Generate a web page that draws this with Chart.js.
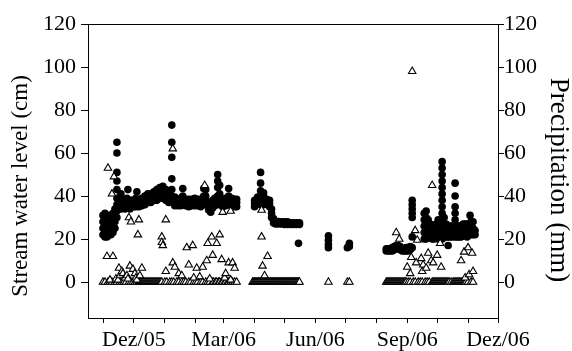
<!DOCTYPE html>
<html><head><meta charset="utf-8">
<script src="https://cdn.jsdelivr.net/npm/chart.js@4.4.1/dist/chart.umd.min.js"></script>
<style>html,body{margin:0;padding:0;background:#fff;}canvas{display:block;}</style>
</head><body>
<canvas id="c" width="572" height="351"></canvas>
<script>
// x values: days since 1 Dec 2005
const monthTickDays = [-30,0,31,62,90,121,151,182,212,243,274,304,335,365];
const tickLabelDays = [0,90,182,274,365];
const tickLabelTexts = ['Dez/05','Mar/06','Jun/06','Sep/06','Dez/06'];
const yTicks = [0,20,40,60,80,100,120];
const leftTitle = 'Stream water level (cm)';
const rightTitle = 'Precipitation (mm)';

// Stream water level (cm): day -> values recorded that day
const levelDays = [-31,-29,-27,-25,-23,-21,-19,-17,-15,-13,-11,-9,-7,-6,-4,-2,0,2,3,5,8,11,14,17,20,23,26,29,32,35,38,
  41,44,47,49,52,55,58,61,64,67,70,72,75,77,79,81,84,86,89,92,95,98,101,103,
  121,124,127,130,133,136,138,140,142,145,148,151,154,157,160,163,166,165,195,214,216,
  253,255,257,259,261,263,265,267,269,271,273,275,277,279,
  291,293,295,297,299,301,303,305,307,309,311,313,315,317,319,322,324,326,328,330,332,334,336,337,338,340,342];
const levelValues = [
  [22,25,28,31],[21,24,27,30,32],[21,24,27,30],[22,25,28,31],[22,25,28,30],[23,26,29,32],[25,28,31,34],
  [65,60,51,47,43,39,36,33,30],[35,37,39],[34,36,38,41],[35,36.5,38],[34,36,38],[35,37,39],[43],[34,36,38],
  [35,36.5,38],[35,36.5,38],[35,37,39],[42],[35,36.5,38],[35.5,37,39],[36,38,40],[37,39,41],[37,39,41],[38,40,42],
  [38,40.5,43],[39,41.5,44],[39,42,44.5],[38,40.5,43],[37,39.5,42],[73,65,58,48,43,40,37],
  [35.5,37.5,39.5],[35.5,37,38.5],[35.5,37.5,39],[36,38,40,43.5],[35.5,37,38.5],[35,37,38.5],[35.5,37,38.5],
  [35.5,37.5,39],[35.5,37,38.5],[35,37,38.5],[36,38,40,43.5],[36,38,40,43],[33.5,35.5,37],[32.5,34.5,36],
  [34.5,36.5,38],[35.5,37.5,39],[36,38,40,44,47,50],[37,39,41,45],[35,37,38.5],[35.5,37.5,39],[36,38,40,43.5],
  [35.5,37.5,39],[35,37,38.5],[35,37,38.5],
  [35,36.5,38],[36.5,38,39.5],[51,46,42.5,39,37.5,36],[36,38,40,41.5],[36.5,37.5,38.5],[35,36.5,38],[30,32,34],
  [27.5,28.5,29.5],[27,28.2],[27,28.2],[27,28],[26.8,28],[26.8,28],[26.8,27.6],[26.8,27.6],[26.8,27.6],[26.8,27.6],
  [18],[21.5,19.5,17.5,16],[16],[18,16.5],
  [14.5,15.5],[14.5,15.5],[14.5,15.5],[14.5,16],[15,16.5],[15.5,17],[15.5,17],[15,16.5],[14.5,15.5],[14.5,15.5],
  [14.5,16],[14.5,16],[15,16.5],[38,36,34,32,30,21,16],
  [20,23,26,29,32],[20,23.5,27,30,33],[21,24,27,29],[21,24,27],[20,23,26],[20,23,26],[21,24,27],[20,23,26,29],
  [20,23,26,29],[56,53,50,47,44,41,38,35,32,29,26,23,20],[21,24,27,30],[21,24,27],[17,21,24],[21,23.5,26],
  [21,23.5,26],[46,40,35,32,29,26,23,21],[21,23.5,26],[21,23.5,26],[21,23.5,26],[22,24.5,27],[22,24.5,27],
  [21,24,27],[22,24.5,27],[31],[22,25,28],[22,25,28],[22,24]
];

// Precipitation (mm): days with rain
const rainDays = [-27,-26,-24,-22,-21,-20,-18,-16,-15,-14,-12,-11,-9,-7,-6,-5,-4,-3,-1,1,2,3,4,5,6,8,
  28,28,29,32,32,39,39,41,45,48,53,55,59,60,63,66,69,71,73,74,76,78,79,83,86,88,89,91,92,95,97,97,99,101,
  128,128,129,131,134,
  263,266,274,277,278,279,282,283,284,288,289,290,293,295,298,299,300,304,307,308,328,331,332,335,336,339,340];
const rainValues = [12,53,1,41,12,49,1.5,1,6.5,3,5,4,2,3,1.5,30,7.5,28,6,4,2,1,22,29,3,6.5,
  21,18.5,17,29,5,62,9,7,4,3,16,8,17,2,6.5,2.5,7,45,10,18,1.5,21,12.5,18,22,10.5,32.5,2,4,9,33,1,9,6.5,
  33.5,21,7.5,3,12,
  23,20,7,4,11.5,98,24,9,19.5,11,5,8,6.5,13.5,10,45,9,12.5,18,7,10,14,2,16,3.5,13.5,5];
// Precipitation (mm): days with zero rain
const rainZeroDays = [-31,-29,-26,-24,-22,-19,-17,-14,-12,-10,-8,-5,-3,-1,1,3,5,
  6,7,8,9,10,11,12,13,14,15,16,17,18,19,20,21,22,23,24,25,26,27,28,
  31,33,36,38,40,43,45,48,50,52,55,57,60,62,64,67,69,72,74,76,79,80,82,83,85,86,88,89,91,92,94,95,97,99,101,103,
  119,120,121,122,123,124,125,126,127,128,129,130,131,132,133,134,135,136,137,138,139,140,141,142,143,144,145,146,
  147,148,149,150,151,152,153,154,155,156,157,158,159,160,161,162,163,164,165,166,
  195,214,216,
  253,254,255,256,257,258,259,260,261,262,263,264,265,266,267,268,269,270,271,272,273,
  275,277,280,282,285,287,289,292,294,296,299,300,301,302,303,304,305,306,307,308,309,310,311,312,313,314,315,316,
  318,320,321,322,323,324,325,326,327,328,329,330,331,332,333,335,338,340];

const levelPoints = levelDays.flatMap((d, i) => levelValues[i].map(v => ({x: d, y: v})));
const rainPoints = rainZeroDays.map(d => ({x: d, y: 0}))
  .concat(rainDays.map((d, i) => ({x: d, y: rainValues[i]})));

const serif = "'Liberation Serif', 'Times New Roman', serif";
const frameAndTitles = {
  id: 'frameAndTitles',
  afterDraw(chart) {
    const {ctx, chartArea: a} = chart;
    ctx.save();
    ctx.strokeStyle = '#000'; ctx.lineWidth = 1;
    ctx.beginPath(); ctx.moveTo(a.left, a.top + 0.5); ctx.lineTo(a.right, a.top + 0.5); ctx.stroke();
    ctx.fillStyle = '#000'; ctx.textAlign = 'center'; ctx.textBaseline = 'middle';
    ctx.save();
    ctx.font = '23px ' + serif;
    ctx.translate(21, 186); ctx.rotate(-Math.PI / 2); ctx.fillText(leftTitle, 0, 0);
    ctx.restore();
    ctx.save();
    ctx.font = '27px ' + serif;
    ctx.translate(558, 180); ctx.rotate(Math.PI / 2); ctx.fillText(rightTitle, 0, 0);
    ctx.restore();
    ctx.restore();
  }
};

new Chart(document.getElementById('c'), {
  type: 'scatter',
  data: {
    datasets: [
      {label: rightTitle, data: rainPoints, yAxisID: 'y2', order: 0,
       pointStyle: 'triangle', pointRadius: 4.3, pointBackgroundColor: '#fff', pointBorderColor: '#000', pointBorderWidth: 1.1},
      {label: leftTitle, data: levelPoints, yAxisID: 'y', order: 1,
       pointStyle: 'circle', pointRadius: 3.8, pointBackgroundColor: '#000', pointBorderColor: '#000', pointBorderWidth: 0}
    ]
  },
  options: {
    responsive: false, animation: false, devicePixelRatio: 1,
    layout: {padding: {top: 24, left: 0, right: 0, bottom: 0}},
    plugins: {legend: {display: false}, tooltip: {enabled: false}},
    scales: {
      x: {
        type: 'linear', min: -46, max: 365,
        afterBuildTicks: s => { s.ticks = monthTickDays.map(v => ({value: v})); },
        afterFit: s => { s.height = 33; },
        ticks: {autoSkip: false, maxRotation: 0, minRotation: 0, padding: 4, color: '#000',
          font: {family: serif, size: 22},
          callback: v => { const i = tickLabelDays.indexOf(v); return i >= 0 ? tickLabelTexts[i] : ''; }},
        grid: {drawOnChartArea: false, drawTicks: true, tickLength: 5, color: '#000'},
        border: {display: true, color: '#000', width: 1}
      },
      y: {
        type: 'linear', position: 'left', min: -16.7, max: 120,
        afterBuildTicks: s => { s.ticks = yTicks.map(v => ({value: v})); },
        afterFit: s => { s.width = 88; },
        ticks: {padding: 5, color: '#000', font: {family: serif, size: 22}},
        grid: {drawOnChartArea: false, drawTicks: true, tickLength: 7, color: '#000'},
        border: {display: true, color: '#000', width: 1},
        title: {display: false, text: leftTitle}
      },
      y2: {
        type: 'linear', position: 'right', min: -16.7, max: 120,
        afterBuildTicks: s => { s.ticks = yTicks.map(v => ({value: v})); },
        afterFit: s => { s.width = 74; },
        ticks: {padding: 0, color: '#000', font: {family: serif, size: 22}},
        grid: {drawOnChartArea: false, drawTicks: true, tickLength: 6, color: '#000'},
        border: {display: true, color: '#000', width: 1},
        title: {display: false, text: rightTitle}
      }
    }
  },
  plugins: [frameAndTitles]
});
</script>
</body></html>
